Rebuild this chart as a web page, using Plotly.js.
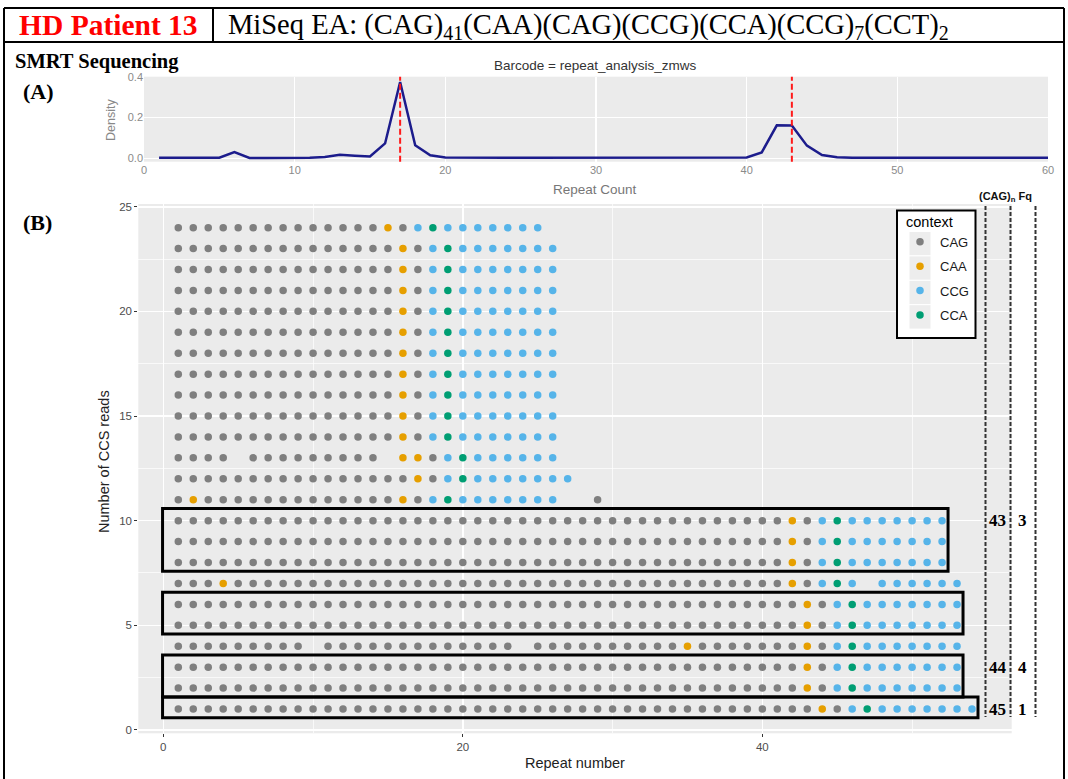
<!DOCTYPE html>
<html><head><meta charset="utf-8">
<script src="https://cdn.plot.ly/plotly-3.0.1.min.js"></script>
<style>html,body{margin:0;padding:0;background:#fff;}#chart{width:1068px;height:779px;}</style>
</head><body><div id="chart"></div>
<script>
// ---------- Panel A: repeat-count density ----------
const repeatCount = [1,2,3,4,5,6,7,8,9,10,11,12,13,14,15,16,17,18,19,20,
  21,22,23,24,25,26,27,28,29,30,31,32,33,34,35,36,37,38,39,40,
  41,42,43,44,45,46,47,48,49,50,51,52,53,54,55,56,57,58,59,60];
const density = [0.003,0.003,0.004,0.004,0.003,0.031,0.002,0.002,0.002,0.002,
  0.003,0.007,0.017,0.013,0.009,0.073,0.374,0.064,0.015,0.004,
  0.003,0.003,0.003,0.003,0.003,0.003,0.003,0.003,0.003,0.003,
  0.003,0.003,0.003,0.003,0.003,0.003,0.003,0.003,0.003,0.004,
  0.029,0.162,0.161,0.062,0.016,0.005,0.003,0.003,0.003,0.003,
  0.003,0.003,0.003,0.003,0.003,0.003,0.003,0.003,0.003,0.003];
const modalRepeats = [17, 43];

// ---------- Panel B: per-read repeat context ----------
const contexts = ['CAG','CAA','CCG','CCA'];
const contextColors = ['#7f7f7f','#E69F00','#56B4E9','#009E73'];
const readRows = [24,23,22,21,20,19,18,17,16,15,14,13,12,11,10,9,8,7,6,5,4,3,2,1];
const readRuns = [
  'CAG14 CAA1 CAG1 CCG1 CCA1 CCG7',
  'CAG15 CAA1 CAG1 CCG1 CCA1 CCG7',
  'CAG15 CAA1 CAG1 CCG1 CCA1 CCG7',
  'CAG15 CAA1 CAG1 CCG1 CCA1 CCG7',
  'CAG15 CAA1 CAG1 CCG1 CCA1 CCG7',
  'CAG15 CAA1 CAG1 CCG1 CCA1 CCG7',
  'CAG15 CAA1 CAG1 CCG1 CCA1 CCG7',
  'CAG15 CAA1 CAG1 CCG1 CCA1 CCG7',
  'CAG15 CAA1 CAG1 CCG1 CCA1 CCG7',
  'CAG15 CAA1 CAG1 CCG1 CCA1 CCG7',
  'CAG15 CAA1 CAG1 CCG1 CCA1 CCG7',
  'CAG4 gap1 CAG9 gap1 CAA2 CAG1 CCG1 CCA1 CCG6',
  'CAG16 CAA1 CAG1 CCG1 CCA1 CCG7',
  'CAG1 CAA1 CAG13 CAA1 CAG1 CCG1 CCA1 CCG7 gap2 CAG1',
  'CAG41 CAA1 CAG1 CCG1 CCA1 CCG7',
  'CAG41 CAA1 CAG1 CCG1 CCA1 CCG7',
  'CAG41 CAA1 CAG1 CCG1 CCA1 CCG7',
  'CAG3 CAA1 CAG37 CAA1 CAG1 CCG1 CCA1 CCG1 gap1 CCG6',
  'CAG42 CAA1 CAG1 CCG1 CCA1 CCG7',
  'CAG42 CAA1 CAG1 CCG1 CCA1 CCG7',
  'CAG9 gap1 CAG13 gap1 CAG10 CAA1 CAG7 CAA1 CAG1 CCG1 CCA1 CCG7',
  'CAG42 CAA1 CAG1 CCG1 CCA1 CCG7',
  'CAG42 CAA1 CAG1 CCG1 CCA1 CCG7',
  'CAG43 CAA1 CAG1 CCG1 CCA1 CCG7'
];
// allele groups (boxed reads) and their (CAG)n / frequency labels
const groupRows = [[8,10],[5,6],[2,3],[1,1]];
const cagLabels = ['43','44','45'];
const fqLabels = ['3','4','1'];
const labelRows = [10,3,1];

// ---------- build ----------
const W = 1068, H = 779;
const px = v => v / W, py = v => 1 - v / H;

const pts = {}; contexts.forEach(c => pts[c] = {x: [], y: []});
const rowLen = {};
readRows.forEach((row, i) => {
  let pos = 0;
  readRuns[i].split(' ').forEach(tok => {
    const m = tok.match(/^([a-zA-Z]+)(\d+)$/);
    const name = m[1], n = +m[2];
    for (let k = 0; k < n; k++) {
      pos++;
      if (pts[name]) { pts[name].x.push(pos); pts[name].y.push(row); }
    }
  });
  rowLen[row] = pos;
});

const SANS = 'Liberation Sans, Arial, sans-serif';
const SERIF = 'Liberation Serif, Times New Roman, serif';

const traces = [{
  x: repeatCount, y: density, type: 'scatter', mode: 'lines',
  line: {color: '#1c1c8c', width: 2.5}, xaxis: 'x', yaxis: 'y',
  showlegend: false, hoverinfo: 'x+y'
}];
contexts.forEach((c, i) => traces.push({
  x: pts[c].x, y: pts[c].y, type: 'scatter', mode: 'markers', name: c,
  legendgroup: 'g' + i,
  marker: {color: contextColors[i], size: 7.5}, xaxis: 'x2', yaxis: 'y2'
}));

const shapes = [];
// header frame
const frame = (x0,y0,x1,y1) => shapes.push({type:'line', xref:'paper', yref:'paper',
  x0:px(x0), y0:py(y0), x1:px(x1), y1:py(y1), line:{color:'#000', width:2}, layer:'above'});
frame(4,8,1064,8); frame(4,42,1064,42); frame(4,8,4,779); frame(1064,8,1064,779); frame(213,8,213,42);
// modal lines in panel A
modalRepeats.forEach(v => shapes.push({type:'line', xref:'x', yref:'y domain', x0:v, x1:v, y0:0, y1:1,
  line:{color:'#ff1a1a', width:2, dash:'6px,3px'}, layer:'above'}));
// allele boxes
groupRows.forEach(g => {
  let maxLen = 0; for (let r = g[0]; r <= g[1]; r++) maxLen = Math.max(maxLen, rowLen[r]);
  shapes.push({type:'rect', xref:'x2', yref:'y2', x0:-0.05, x1:maxLen + 0.4,
    y0:g[0] - 0.42, y1:g[1] + 0.58, line:{color:'#000', width:3}, fillcolor:'rgba(0,0,0,0)', layer:'above'});
});
// dashed column separators
[985.5, 1010.5, 1035.5].forEach(x => shapes.push({type:'line', xref:'paper', yref:'paper',
  x0:px(x), x1:px(x), y0:py(206), y1:py(717), line:{color:'#333', width:2, dash:'4px,2px'}, layer:'above'}));
// legend frame and keys
shapes.push({type:'rect', xref:'paper', yref:'paper', x0:px(897), x1:px(975.5), y0:py(338), y1:py(210.5),
  fillcolor:'#fff', line:{color:'#000', width:2}, layer:'above'});
for (let i = 0; i < 4; i++) {
  shapes.push({type:'rect', xref:'paper', yref:'paper', x0:px(909), x1:px(931),
    y0:py(231.5 + 24.4*(i+1)), y1:py(231.5 + 24.4*i), fillcolor:'#ededed',
    line:{color:'#fff', width:1}, layer:'above'});
}

const ann = [];
const A = (text, x, y, o) => ann.push(Object.assign({text, x:px(x), y:py(y), xref:'paper', yref:'paper',
  showarrow:false, xanchor:'center', yanchor:'middle'}, o||{}));
A('HD Patient 13', 108, 25, {font:{family:SERIF, size:29.5, color:'#ff0000', weight:'bold'}});
A('MiSeq EA: (CAG)<sub>41</sub>(CAA)(CAG)(CCG)(CCA)(CCG)<sub>7</sub>(CCT)<sub>2</sub>', 226, 27,
  {xanchor:'left', font:{family:SERIF, size:28.5, color:'#000'}});
A('<b>SMRT Sequencing</b>', 13, 61, {xanchor:'left', font:{family:SERIF, size:20.5, color:'#000'}});
A('<b>(A)</b>', 21, 91, {xanchor:'left', font:{family:SERIF, size:22, color:'#000'}});
A('<b>(B)</b>', 21, 222, {xanchor:'left', font:{family:SERIF, size:22, color:'#000'}});
A('Barcode = repeat_analysis_zmws', 595, 66, {font:{family:SANS, size:13.5, color:'#333'}});
A('Density', 111, 120, {textangle:-90, font:{family:SANS, size:12.5, color:'#888'}});
A('Repeat Count', 595, 189, {font:{family:SANS, size:13.5, color:'#777'}});
A('Number of CCS reads', 104, 462, {textangle:-90, font:{family:SANS, size:14.5, color:'#222'}});
A('Repeat number', 575, 763, {font:{family:SANS, size:14.5, color:'#222'}});
A('<b>(CAG)<sub>n</sub> Fq</b>', 1005, 197, {font:{family:SANS, size:11, color:'#111'}});
labelRows.forEach((r, i) => {
  ann.push({text:'<b>'+cagLabels[i]+'</b>', x:px(997.5), y:r, xref:'paper', yref:'y2', showarrow:false,
    xanchor:'center', yanchor:'middle', font:{family:SERIF, size:17, color:'#000'}});
  ann.push({text:'<b>'+fqLabels[i]+'</b>', x:px(1022), y:r, xref:'paper', yref:'y2', showarrow:false,
    xanchor:'center', yanchor:'middle', font:{family:SERIF, size:17, color:'#000'}});
});

const layout = {
  width: W, height: H, margin: {l:0, r:0, t:0, b:0, pad:0},
  paper_bgcolor: '#fff', plot_bgcolor: '#ebebeb',
  font: {family: SANS},
  xaxis: {domain:[px(144), px(1048)], anchor:'y', range:[0,60], tickvals:[0,10,20,30,40,50,60],
    showgrid:true, gridcolor:'#fff', gridwidth:1.5, zeroline:false, ticks:'', showline:false,
    tickfont:{size:11, color:'#8a8a8a'}},
  yaxis: {domain:[py(161.7), py(76.7)], anchor:'x', range:[-0.0165, 0.40], tickvals:[0,0.2,0.4],
    ticktext:['0.0','0.2','0.4'], showgrid:true, gridcolor:'#fff', gridwidth:1.5, zeroline:false, ticks:'',
    tickfont:{size:11, color:'#8a8a8a'}},
  xaxis2: {domain:[px(138.3), px(1011.7)], anchor:'y2', range:[-1.67, 56.65], tickvals:[0,20,40],
    ticks:'outside', ticklen:3, tickcolor:'#333', showgrid:true, gridcolor:'#fff', gridwidth:1.6, zeroline:false,
    minor:{dtick:10, tick0:0, showgrid:true, gridcolor:'#fff', gridwidth:0.7, ticks:''},
    tickfont:{size:11.5, color:'#4d4d4d'}},
  yaxis2: {domain:[py(733.3), py(204)], anchor:'x2', range:[-0.16, 25.13], dtick:5, tick0:0,
    ticks:'outside', ticklen:3, tickcolor:'#333', showgrid:true, gridcolor:'#fff', gridwidth:1.6, zeroline:false,
    minor:{dtick:2.5, tick0:0, showgrid:true, gridcolor:'#fff', gridwidth:0.7, ticks:''},
    tickfont:{size:11.5, color:'#4d4d4d'}},
  showlegend: true,
  legend: {x:px(900), y:py(208), xanchor:'left', yanchor:'top', bgcolor:'rgba(0,0,0,0)', borderwidth:0,
    font:{family:SANS, size:13, color:'#1a1a1a'}, title:{text:'&nbsp;context', font:{family:SANS, size:14.5, color:'#000'}},
    tracegroupgap:4.5, itemclick:false, itemdoubleclick:false},
  shapes, annotations: ann
};
Plotly.newPlot('chart', traces, layout, {displayModeBar:false, staticPlot:true});
</script></body></html>
